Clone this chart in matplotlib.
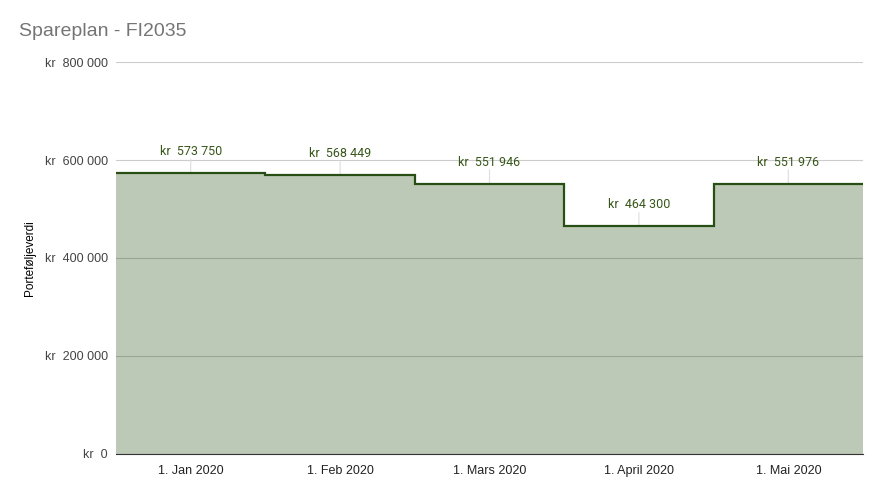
import numpy as np
import matplotlib.pyplot as plt

months = ["1. Jan 2020", "1. Feb 2020", "1. Mars 2020", "1. April 2020", "1. Mai 2020"]
values = [573750, 568449, 551946, 464300, 551976]
yticks = [0, 200000, 400000, 600000, 800000]


def kr(v):
    return "kr  " + f"{v:,}".replace(",", " ")


fig = plt.figure(figsize=(8.8, 4.91), dpi=100)
ax = fig.add_axes([0.1318, 0.0754, 0.8489, 0.7983])

edges = np.arange(len(values) + 1)
# halvgjennomsiktig fyll, rutenettet skal synes gjennom
ax.stairs(values, edges, fill=True, color="#274e13", alpha=0.3, lw=0, zorder=3)
ax.stairs(values, edges, baseline=None, color="#274e13", lw=1.6, zorder=4)

ax.set_xlim(0, len(values))
ax.set_ylim(0, 800000)
ax.set_yticks(yticks)
ax.set_yticklabels([kr(v) for v in yticks], fontsize=9, color="#444444", family="Liberation Sans")
ax.set_xticks(edges[:-1] + 0.5)
ax.set_xticklabels(months, fontsize=9, color="#222222", family="Liberation Sans")
ax.tick_params(length=0, pad=8)
ax.tick_params(axis="y", pad=6)
ax.grid(axis="y", color="#cccccc", lw=0.8, zorder=1)
ax.set_axisbelow(True)
for s in ["top", "right", "left"]:
    ax.spines[s].set_visible(False)
ax.spines["bottom"].set_color("#333333")
ax.spines["bottom"].set_zorder(5)

ax.set_ylabel("Porteføljeverdi", fontsize=8.5, family="Liberation Sans", labelpad=6)

# datalabels med liten strek ned til linja
for i, v in enumerate(values):
    x = i + 0.5
    ax.annotate("", xy=(x, v), xytext=(0, 10), textcoords="offset points",
                xycoords="data",
                arrowprops=dict(arrowstyle="-", color="#dddddd", lw=0.8, shrinkA=0, shrinkB=0),
                zorder=3)
    ax.annotate(kr(v), xy=(x, v), xytext=(0, 15.5), textcoords="offset points",
                ha="center", va="center", fontsize=9, color="#38571a",
                family="Roboto", zorder=6)

fig.text(0.022, 0.935, "Spareplan - FI2035", fontsize=14, color="#757575",
         family="Liberation Sans", va="center")

fig.savefig("out.png", dpi=100)
